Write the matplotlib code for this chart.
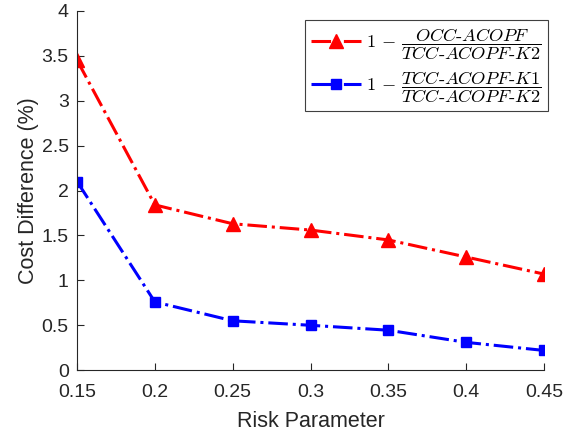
import matplotlib
matplotlib.use("Agg")
import matplotlib.pyplot as plt

# risk parameter sweep and the resulting cost gaps (%)
risk = [0.15, 0.2, 0.25, 0.3, 0.35, 0.4, 0.45]
occ_gap = [3.45, 1.84, 1.63, 1.56, 1.45, 1.26, 1.07]
k1_gap = [2.10, 0.76, 0.55, 0.50, 0.445, 0.31, 0.22]

x_ticks = [0.15, 0.2, 0.25, 0.3, 0.35, 0.4, 0.45]
x_ticklabels = ["0.15", "0.2", "0.25", "0.3", "0.35", "0.4", "0.45"]
y_ticks = [0, 0.5, 1, 1.5, 2, 2.5, 3, 3.5, 4]
y_ticklabels = ["0", "0.5", "1", "1.5", "2", "2.5", "3", "3.5", "4"]

plt.rcParams["font.family"] = ["Liberation Sans", "DejaVu Sans"]
plt.rcParams["mathtext.fontset"] = "cm"

fig = plt.figure(figsize=(5.75, 4.34), dpi=100)
ax = fig.add_axes([0.134, 0.147, 0.812, 0.828])

lbl_occ = r"$1\,-\,\dfrac{\mathit{OCC}\text{-}\mathit{ACOPF}}{\mathit{TCC}\text{-}\mathit{ACOPF}\text{-}\mathit{K2}}$"
lbl_k1 = r"$1\,-\,\dfrac{\mathit{TCC}\text{-}\mathit{ACOPF}\text{-}\mathit{K1}}{\mathit{TCC}\text{-}\mathit{ACOPF}\text{-}\mathit{K2}}$"

ax.plot(risk, occ_gap, "-.", color="red", linewidth=2.2, marker="^",
        markersize=10, label=lbl_occ)
ax.plot(risk, k1_gap, "-.", color="blue", linewidth=2.2, marker="s",
        markersize=7.5, label=lbl_k1)

ax.set_xlim(0.15, 0.45)
ax.set_ylim(0, 4)
ax.set_xticks(x_ticks)
ax.set_xticklabels(x_ticklabels)
ax.set_yticks(y_ticks)
ax.set_yticklabels(y_ticklabels)

for s in ["top", "right"]:
    ax.spines[s].set_visible(False)
for s in ["left", "bottom"]:
    ax.spines[s].set_color("#262626")
    ax.spines[s].set_linewidth(0.8)
ax.tick_params(direction="in", length=5, width=0.8, labelsize=14,
               colors="#262626")
ax.tick_params(axis="x", pad=10)
ax.tick_params(axis="y", pad=6)

ax.set_xlabel("Risk Parameter", fontsize=15.5, color="#262626", labelpad=7)
ax.set_ylabel("Cost Difference (%)", fontsize=15.5, color="#262626", labelpad=2)

leg = ax.legend(loc="upper right", bbox_to_anchor=(1.009, 0.975), fontsize=13.2,
                fancybox=False, framealpha=1, edgecolor="#404040",
                handlelength=2.7, handletextpad=0.3, borderpad=0.35,
                labelspacing=0.4, borderaxespad=0)
leg.get_frame().set_linewidth(0.8)

fig.savefig("out.png", dpi=100)
